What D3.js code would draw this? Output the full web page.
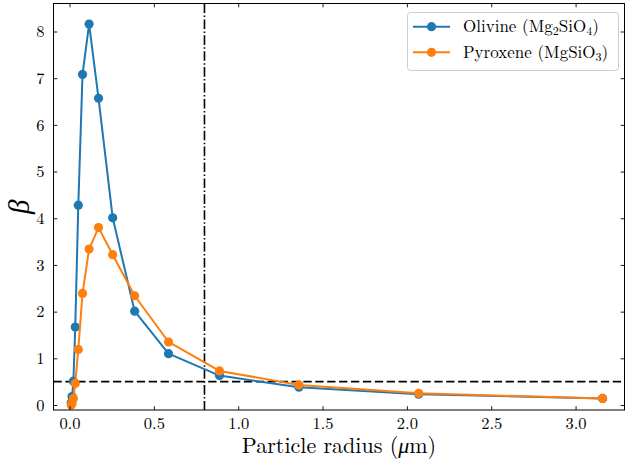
<!DOCTYPE html>
<html>
<head>
<meta charset="utf-8">
<script src="https://cdn.jsdelivr.net/npm/d3@7"></script>
<style>
html,body{margin:0;padding:0;background:#fff;}
svg{display:block;}
</style>
</head>
<body>
<svg id="chart" width="626" height="466"></svg>
<script>
// ---- data ----
const radius = [0.010, 0.015, 0.023, 0.034, 0.052, 0.077, 0.116, 0.172, 0.256, 0.386, 0.587, 0.889, 1.36, 2.07, 3.16];
const olivine = [0.05, 0.18, 0.51, 1.67, 4.28, 7.08, 8.16, 6.57, 4.01, 2.01, 1.10, 0.63, 0.38, 0.23, 0.14];
const pyroxene = [0.00, 0.03, 0.14, 0.46, 1.19, 2.39, 3.34, 3.80, 3.22, 2.34, 1.35, 0.73, 0.43, 0.25, 0.14];
const xTicks = [0.0, 0.5, 1.0, 1.5, 2.0, 2.5, 3.0];
const yTicks = [0, 1, 2, 3, 4, 5, 6, 7, 8];
const betaLimit = 0.5;
const radiusLimit = 0.8;
const seriesNames = ["Olivine", "Pyroxene"];

const svg = d3.select("#chart");
const L = 53.5, R = 624.5, T = 3.5, B = 410;
const x = d3.scaleLinear().domain([-0.095, 3.29]).range([L, R]);
const y = d3.scaleLinear().domain([-0.107, 8.6]).range([B, T]);

const serif = "'Latin Modern Roman', 'Liberation Serif', serif";

// reference lines
svg.append("line")
  .attr("x1", L).attr("x2", R)
  .attr("y1", y(betaLimit)).attr("y2", y(betaLimit))
  .attr("stroke", "#000").attr("stroke-width", 1.6)
  .attr("stroke-dasharray", "8.3,3.6");
svg.append("line")
  .attr("x1", x(radiusLimit)).attr("x2", x(radiusLimit))
  .attr("y1", T).attr("y2", B)
  .attr("stroke", "#000").attr("stroke-width", 1.6)
  .attr("stroke-dasharray", "9.6,2.4,1.5,2.4");

// series
const series = [
  {name: seriesNames[0], values: olivine, color: "#1f77b4"},
  {name: seriesNames[1], values: pyroxene, color: "#ff7f0e"}
];
const line = d3.line().x(d => x(d[0])).y(d => y(d[1]));
series.forEach(s => {
  const pts = radius.map((r, i) => [r, s.values[i]]);
  const g = svg.append("g");
  g.append("path").datum(pts)
    .attr("d", line).attr("fill", "none")
    .attr("stroke", s.color).attr("stroke-width", 2)
    .attr("stroke-linejoin", "round");
  g.selectAll("circle").data(pts).join("circle")
    .attr("cx", d => x(d[0])).attr("cy", d => y(d[1]))
    .attr("r", 4.6).attr("fill", s.color);
});

// axes
function styleAxis(g, showText) {
  g.select(".domain").remove();
  g.selectAll(".tick line").attr("stroke", "#000").attr("stroke-width", 0.9);
  g.selectAll(".tick text").attr("font-family", serif).attr("font-size", 16.5).attr("fill", "#000");
  if (!showText) g.selectAll(".tick text").remove();
}
svg.append("g").attr("transform", `translate(0,${B})`)
  .call(d3.axisBottom(x).tickValues(xTicks).tickFormat(d3.format(".1f")).tickSize(-3.8).tickPadding(7.5))
  .call(g => styleAxis(g, true));
svg.append("g").attr("transform", `translate(0,${T})`)
  .call(d3.axisTop(x).tickValues(xTicks).tickSize(-3.8))
  .call(g => styleAxis(g, false));
svg.append("g").attr("transform", `translate(${L},0)`)
  .call(d3.axisLeft(y).tickValues(yTicks).tickFormat(d3.format("d")).tickSize(-3.8).tickPadding(9))
  .call(g => styleAxis(g, true));
svg.append("g").attr("transform", `translate(${R},0)`)
  .call(d3.axisRight(y).tickValues(yTicks).tickSize(-3.8))
  .call(g => styleAxis(g, false));

// frame
svg.append("rect").attr("x", L).attr("y", T).attr("width", R - L).attr("height", B - T)
  .attr("fill", "none").attr("stroke", "#000").attr("stroke-width", 1);

// axis labels
const xl = svg.append("text").attr("x", (L + R) / 2).attr("y", 453)
  .attr("text-anchor", "middle").attr("font-family", serif).attr("font-size", 22).attr("fill", "#000");
xl.append("tspan").text("Particle radius (");
xl.append("tspan").attr("font-style", "italic").text("μ");
xl.append("tspan").text("m)");

svg.append("text").attr("transform", `translate(29,${(T + B) / 2}) rotate(-90)`)
  .attr("text-anchor", "middle").attr("font-family", serif).attr("font-style", "italic")
  .attr("font-size", 29).attr("fill", "#000").text("β");

// legend
const lg = svg.append("g");
lg.append("rect").attr("x", 407.5).attr("y", 12.5).attr("width", 211).attr("height", 58).attr("rx", 3)
  .attr("fill", "#fff").attr("fill-opacity", 0.8).attr("stroke", "#cccccc").attr("stroke-width", 1);
const legendFormula = [
  [["Mg", false], ["2", true], ["SiO", false], ["4", true]],
  [["MgSiO", false], ["3", true]]
];
series.forEach((s, i) => {
  const yy = 26.7 + i * 25.6;
  lg.append("line").attr("x1", 413).attr("x2", 450).attr("y1", yy).attr("y2", yy)
    .attr("stroke", s.color).attr("stroke-width", 2);
  lg.append("circle").attr("cx", 431.5).attr("cy", yy).attr("r", 4.6).attr("fill", s.color);
  const t = lg.append("text").attr("x", 463).attr("y", yy + 5.5)
    .attr("font-family", serif).attr("font-size", 17).attr("fill", "#000");
  t.append("tspan").text(s.name + " (");
  let shifted = false;
  legendFormula[i].forEach(([str, sub]) => {
    if (sub) { t.append("tspan").attr("font-size", 12).attr("dy", 3).text(str); shifted = true; }
    else { t.append("tspan").attr("dy", shifted ? -3 : 0).text(str); shifted = false; }
  });
  t.append("tspan").attr("dy", shifted ? -3 : 0).text(")");
});
</script>
</body>
</html>
